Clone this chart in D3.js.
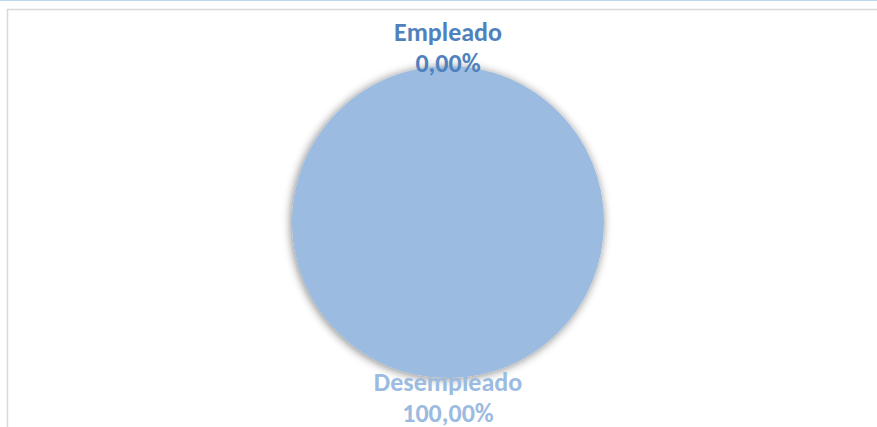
<!DOCTYPE html>
<html>
<head>
<meta charset="utf-8">
<script src="https://cdn.jsdelivr.net/npm/d3@7"></script>
<style>
  body { margin: 0; background: #fff; }
  svg { display: block; }
</style>
</head>
<body>
<svg width="877" height="427"></svg>
<script>
var categories = ["Empleado", "Desempleado"];
var values = [0, 100];
var labelColors = ["#4f81bd", "#9bbbe0"];
var sliceColors = ["#4f81bd", "#9bbbe0"];

var svg = d3.select("svg"),
    width = +svg.attr("width"),
    height = +svg.attr("height");

// top strip + chart frame
svg.append("line")
    .attr("x1", 0).attr("x2", width)
    .attr("y1", 0.5).attr("y2", 0.5)
    .attr("stroke", "#bdd7ee").attr("stroke-width", 1);
svg.append("rect")
    .attr("x", 7.5).attr("y", 9.5)
    .attr("width", width + 20).attr("height", height + 20)
    .attr("fill", "#fff")
    .attr("stroke", "#d9d9d9").attr("stroke-width", 1.5);

var defs = svg.append("defs");
var f = defs.append("filter").attr("id", "shadow")
    .attr("x", "-20%").attr("y", "-20%").attr("width", "140%").attr("height", "140%");
f.append("feGaussianBlur").attr("in", "SourceAlpha").attr("stdDeviation", 5).attr("result", "b");
f.append("feOffset").attr("in", "b").attr("dx", -1).attr("dy", 1).attr("result", "o");
f.append("feComponentTransfer").attr("in", "o").attr("result", "s")
  .append("feFuncA").attr("type", "linear").attr("slope", 0.5);
var m = f.append("feMerge");
m.append("feMergeNode").attr("in", "s");
m.append("feMergeNode").attr("in", "SourceGraphic");

var cx = 448, cy = 222, r = 156;

var data = categories.map(function(c, i) { return { name: c, value: values[i], i: i }; });
var total = d3.sum(values);

var pie = d3.pie().sort(null).value(function(d) { return d.value; });
var arc = d3.arc().innerRadius(0).outerRadius(r);

var g = svg.append("g").attr("transform", "translate(" + cx + "," + cy + ")");

g.append("g").attr("filter", "url(#shadow)")
  .selectAll("path")
  .data(pie(data))
  .enter().append("path")
    .attr("d", arc)
    .attr("fill", function(d) { return sliceColors[d.data.i]; });

var fmt = function(v) { return d3.format(".2f")(v).replace(".", ",") + "%"; };

var lbl = g.selectAll("text.lbl")
  .data(pie(data))
  .enter().append("text")
    .attr("class", "lbl")
    .attr("text-anchor", "middle")
    .attr("font-family", "Carlito, Lato, sans-serif")
    .attr("font-weight", "bold")
    .attr("font-size", 26)
    .attr("fill", function(d) { return labelColors[d.data.i]; })
    .attr("transform", function(d) {
      var a = (d.startAngle + d.endAngle) / 2;
      var lr = r + 19;
      return "translate(" + (Math.sin(a) * lr) + "," + (-Math.cos(a) * lr) + ")";
    });

lbl.append("tspan").attr("x", 0).attr("dy", -6).text(function(d) { return d.data.name; });
lbl.append("tspan").attr("x", 0).attr("dy", 31)
    .text(function(d) { return fmt(d.data.value / total * 100); });
</script>
</body>
</html>
